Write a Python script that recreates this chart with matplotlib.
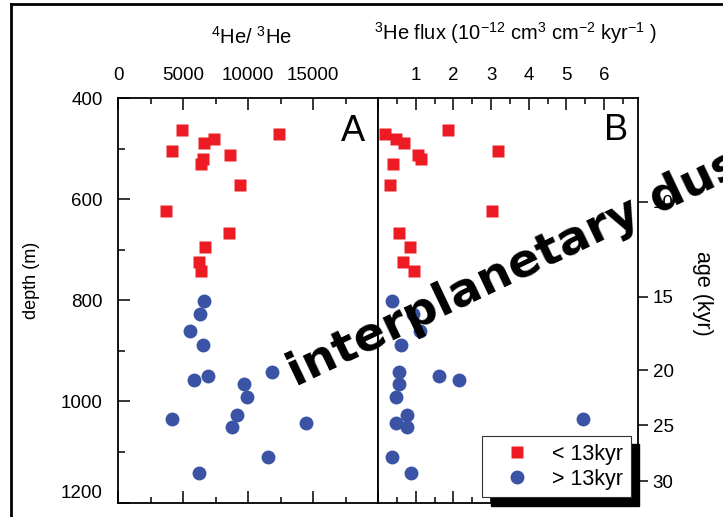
import matplotlib.pyplot as plt
from matplotlib.lines import Line2D
from matplotlib.patches import Rectangle
from matplotlib.ticker import MultipleLocator, FixedLocator

plt.rcParams['font.family'] = ['Liberation Sans', 'DejaVu Sans']
plt.rcParams['mathtext.fontset'] = 'custom'
plt.rcParams['mathtext.rm'] = 'Liberation Sans'
plt.rcParams['mathtext.it'] = 'Liberation Sans:italic'
plt.rcParams['mathtext.bf'] = 'Liberation Sans:bold'

# samples younger than 13 kyr (depth in m)
depth_young = [463, 471, 480, 488, 505, 513, 521, 530, 572, 623, 667, 694, 724, 741]
ratio_young = [4940, 12420, 7370, 6600, 4190, 8650, 6550, 6350, 9400, 3680, 8520, 6710, 6250, 6370]
flux_young = [1.86, 0.18, 0.47, 0.69, 3.18, 1.05, 1.13, 0.40, 0.31, 3.03, 0.56, 0.85, 0.66, 0.96]

# samples older than 13 kyr
depth_old = [801, 827, 861, 889, 941, 949, 957, 966, 991, 1026, 1034, 1043, 1050, 1109, 1141]
ratio_old = [6600, 6290, 5520, 6550, 11830, 6960, 5830, 9710, 9910, 9120, 4140, 14480, 8750, 11500, 6220]
flux_old = [0.36, 0.94, 1.11, 0.62, 0.55, 1.61, 2.15, 0.57, 0.49, 0.76, 5.45, 0.47, 0.78, 0.38, 0.88]

# age scale on the right: depth of each age tick
age_depths = [605, 793, 938, 1047, 1158]
age_labels = ['10', '15', '20', '25', '30']

depth_ticks = [400, 600, 800, 1000, 1200]
ratio_ticks = [0, 5000, 10000, 15000, 20000]
ratio_labels = ['0', '5000', '10000', '15000', '']
flux_ticks = [0, 1, 2, 3, 4, 5, 6]
flux_labels = ['', '1', '2', '3', '4', '5', '6']

RED = '#ED1C24'
BLUE = '#3A53A4'
W, H = 723, 517
TICK_FS = 13.5

fig = plt.figure(figsize=(7.23, 5.17), dpi=100)
axA = fig.add_axes([118 / W, 14.5 / H, 260 / W, 404.2 / H])
axB = fig.add_axes([378 / W, 14.5 / H, 260 / W, 404.2 / H])

axA.plot(ratio_young, depth_young, 's', color=RED, ms=8.6, mec='none')
axA.plot(ratio_old, depth_old, 'o', color=BLUE, ms=10, mec='none')
sq, = axB.plot(flux_young, depth_young, 's', color=RED, ms=8.6, mec='none')
ci, = axB.plot(flux_old, depth_old, 'o', color=BLUE, ms=10, mec='none')

axA.set_xlim(0, 20000)
axB.set_xlim(0, 6.9)
for ax in (axA, axB):
    ax.set_ylim(1200, 400)
    for sp in ax.spines.values():
        sp.set_linewidth(1.3)
    ax.tick_params(axis='x', which='both', direction='in', top=True, bottom=True,
                   labeltop=True, labelbottom=False, pad=10.5, labelsize=TICK_FS, width=1.1)
    ax.tick_params(axis='x', which='major', length=8.5)
    ax.tick_params(axis='x', which='minor', length=4.5)

axA.xaxis.set_major_locator(FixedLocator(ratio_ticks))
axA.set_xticklabels(ratio_labels)
axA.xaxis.set_minor_locator(MultipleLocator(2500))
axB.xaxis.set_major_locator(FixedLocator(flux_ticks))
axB.set_xticklabels(flux_labels)
axB.xaxis.set_minor_locator(MultipleLocator(0.5))

# depth axis on the left of panel A
axA.yaxis.set_major_locator(FixedLocator(depth_ticks))
axA.set_yticklabels([str(d) for d in depth_ticks])
axA.yaxis.set_minor_locator(MultipleLocator(100))
axA.tick_params(axis='y', which='both', direction='in', left=True, right=False,
                pad=11, labelsize=TICK_FS, width=1.1)
axA.tick_params(axis='y', which='major', length=8.5)
axA.tick_params(axis='y', which='minor', length=5)
# bottom label sits a little above its tick, as in the original
axA.get_yticklabels()[-1].set_va('bottom')

# age axis on the right of panel B
axB.yaxis.set_major_locator(FixedLocator(age_depths))
axB.set_yticklabels(age_labels)
axB.tick_params(axis='y', which='both', direction='out', left=False, right=True,
                labelleft=False, labelright=True, length=7, width=1.1,
                pad=3.6, labelsize=TICK_FS)
axB.tick_params(axis='y', which='minor', right=False)

axA.text(0.902, 0.919, 'A', transform=axA.transAxes, fontsize=26,
         ha='center', va='center')
axB.text(0.915, 0.920, 'B', transform=axB.transAxes, fontsize=26,
         ha='center', va='center')

fig.text(251 / W, 1 - 44 / H, r'$^{4}$He/ $^{3}$He', fontsize=14.5,
         ha='center', va='baseline')
fig.text(515 / W, 1 - 40 / H,
         r'$^{3}$He flux (10$^{-12}$ cm$^{3}$ cm$^{-2}$ kyr$^{-1}$ )',
         fontsize=14.5, ha='center', va='baseline')
fig.text(32 / W, 1 - 280 / H, 'depth (m)', fontsize=13, rotation=90,
         ha='center', va='center')
fig.text(702 / W, 1 - 293 / H, 'age (kyr)', fontsize=15.5, rotation=-90,
         ha='center', va='center')

leg = axB.legend([sq, ci], ['< 13kyr', '> 13kyr'], loc='upper left',
                 bbox_to_anchor=(0.4, 0, 0.573, 0.1646), mode='expand',
                 borderaxespad=0, fontsize=15.5, borderpad=0.35,
                 handlelength=2.53, handletextpad=0.36, labelspacing=0.2,
                 fancybox=False, framealpha=1, edgecolor='#333333')
leg.get_frame().set_linewidth(0.8)

# black drop shadow under the legend box
fig.canvas.draw()
bb = leg.legendPatch.get_window_extent()
inv = axB.transAxes.inverted()
x0, y0 = inv.transform((bb.x0 + 8.5, bb.y0 - 8.5))
x1, y1 = inv.transform((bb.x1 + 8.5, bb.y1 - 8.5))
axB.add_patch(Rectangle((x0, y0), x1 - x0, y1 - y0, transform=axB.transAxes,
                        color='black', zorder=4.9, clip_on=False))

# frame of the screenshot
fig.add_artist(Line2D([11 / W, 1], [1 - 4 / H, 1 - 4 / H], color='black', lw=2))
fig.add_artist(Line2D([11 / W, 11 / W], [0, 1 - 4 / H], color='black', lw=2))

fig.text(296 / W, 1 - 387 / H, 'interplanetary dust', fontsize=34,
         fontweight='bold', family='DejaVu Sans', rotation=25.5,
         rotation_mode='anchor', ha='left', va='baseline', zorder=20)

fig.savefig('out.png', dpi=100)
